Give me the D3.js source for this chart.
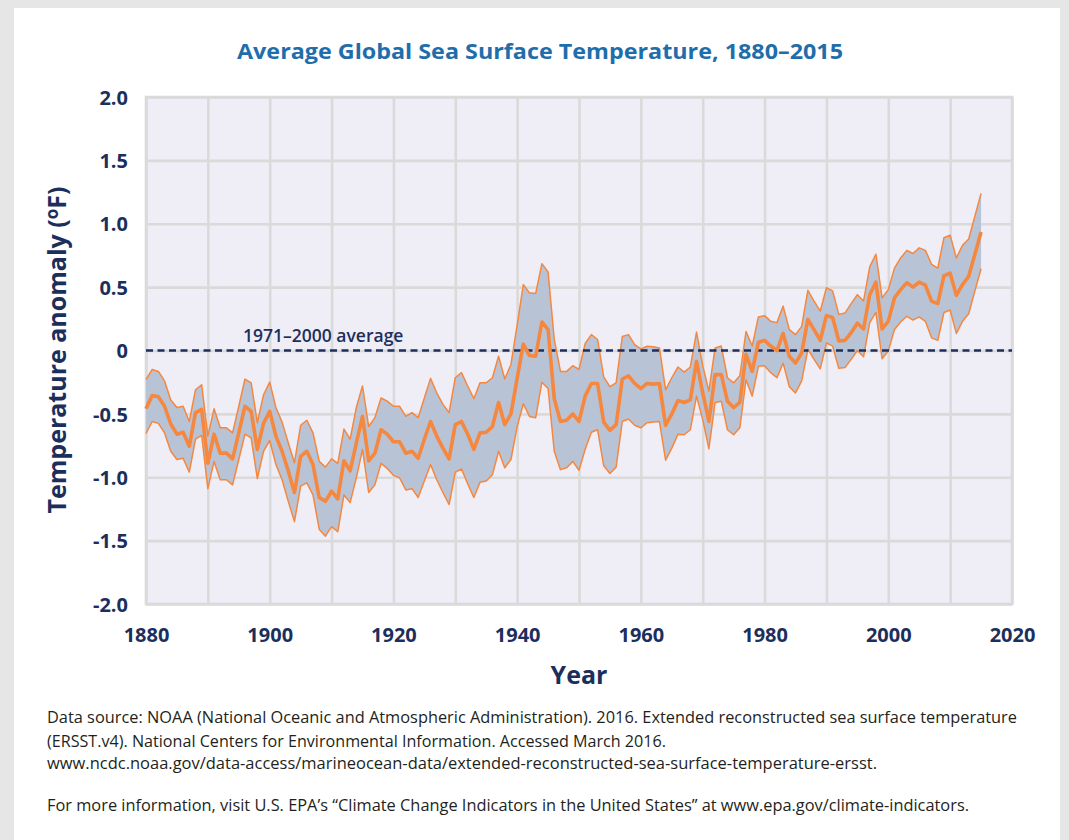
<!DOCTYPE html>
<html>
<head>
<meta charset="utf-8">
<script src="https://cdn.jsdelivr.net/npm/d3@7"></script>
<style>
  html, body { margin: 0; padding: 0; background: #e6e6e6; }
  svg { display: block; }
</style>
</head>
<body>
<svg id="chart" width="1069" height="840"></svg>
<script>
// Annual global sea surface temperature anomaly (°F) relative to 1971–2000,
// with the upper and lower bounds of the uncertainty range.
const years = d3.range(1880, 2016);

const anomaly = [
  -0.46, -0.355, -0.365, -0.44, -0.58, -0.66, -0.645, -0.755, -0.49, -0.465,
  -0.89, -0.66, -0.81, -0.81, -0.855, -0.65, -0.44, -0.48, -0.78, -0.575,
  -0.48, -0.675, -0.795, -0.95, -1.12, -0.835, -0.795, -0.90, -1.16, -1.19,
  -1.11, -1.17, -0.87, -0.95, -0.73, -0.52, -0.87, -0.81, -0.625, -0.66,
  -0.72, -0.72, -0.81, -0.795, -0.85, -0.70, -0.56, -0.675, -0.77, -0.855,
  -0.585, -0.56, -0.66, -0.78, -0.65, -0.645, -0.60, -0.41, -0.585, -0.50,
  -0.22, 0.05, -0.04, -0.045, 0.225, 0.165, -0.38, -0.56, -0.55, -0.50,
  -0.56, -0.36, -0.26, -0.26, -0.565, -0.63, -0.585, -0.225, -0.20, -0.26,
  -0.30, -0.26, -0.265, -0.26, -0.59, -0.50, -0.395, -0.41, -0.39, -0.085,
  -0.335, -0.56, -0.19, -0.19, -0.40, -0.45, -0.41, -0.03, -0.165, 0.065,
  0.08, 0.035, 0.0, 0.135, -0.045, -0.10, -0.02, 0.245, 0.165, 0.08,
  0.275, 0.26, 0.075, 0.08, 0.14, 0.215, 0.17, 0.44, 0.54, 0.17,
  0.23, 0.415, 0.48, 0.535, 0.50, 0.54, 0.515, 0.39, 0.37, 0.59,
  0.61, 0.435, 0.52, 0.585, 0.76, 0.935
];

const upperBound = [
  -0.23, -0.15, -0.165, -0.24, -0.39, -0.45, -0.44, -0.56, -0.31, -0.27,
  -0.675, -0.46, -0.61, -0.61, -0.65, -0.44, -0.225, -0.255, -0.57, -0.35,
  -0.25, -0.45, -0.565, -0.73, -0.885, -0.59, -0.55, -0.65, -0.875, -0.92,
  -0.855, -0.89, -0.62, -0.70, -0.45, -0.28, -0.60, -0.53, -0.375, -0.40,
  -0.44, -0.44, -0.52, -0.49, -0.53, -0.375, -0.22, -0.335, -0.425, -0.49,
  -0.215, -0.175, -0.28, -0.38, -0.255, -0.255, -0.215, -0.045, -0.225, -0.11,
  0.20, 0.52, 0.455, 0.45, 0.685, 0.62, 0.087, -0.165, -0.165, -0.12,
  -0.15, 0.055, 0.125, 0.087, -0.21, -0.285, -0.255, 0.11, 0.125, 0.047,
  0.013, 0.034, 0.03, 0.02, -0.31, -0.215, -0.13, -0.17, -0.13, 0.145,
  -0.12, -0.32, 0.02, 0.035, -0.215, -0.255, -0.20, 0.15, 0.035, 0.265,
  0.275, 0.23, 0.22, 0.35, 0.165, 0.125, 0.19, 0.475, 0.39, 0.31,
  0.495, 0.47, 0.285, 0.295, 0.37, 0.44, 0.39, 0.66, 0.76, 0.415,
  0.48, 0.65, 0.73, 0.79, 0.765, 0.81, 0.79, 0.68, 0.65, 0.89,
  0.91, 0.73, 0.83, 0.88, 1.06, 1.24
];

const lowerBound = [
  -0.655, -0.56, -0.575, -0.65, -0.795, -0.86, -0.85, -0.96, -0.70, -0.67,
  -1.09, -0.875, -1.02, -1.02, -1.06, -0.86, -0.66, -0.69, -1.01, -0.795,
  -0.71, -0.90, -1.02, -1.19, -1.35, -1.07, -1.045, -1.14, -1.41, -1.465,
  -1.39, -1.43, -1.14, -1.20, -1.005, -0.78, -1.12, -1.06, -0.89, -0.93,
  -0.985, -1.005, -1.10, -1.09, -1.16, -1.03, -0.90, -1.02, -1.12, -1.215,
  -0.96, -0.935, -1.05, -1.16, -1.04, -1.03, -0.98, -0.795, -0.925, -0.86,
  -0.60, -0.42, -0.52, -0.53, -0.25, -0.30, -0.795, -0.94, -0.925, -0.875,
  -0.945, -0.78, -0.645, -0.625, -0.91, -0.97, -0.92, -0.56, -0.54, -0.59,
  -0.61, -0.57, -0.565, -0.56, -0.865, -0.77, -0.66, -0.665, -0.625, -0.36,
  -0.545, -0.775, -0.41, -0.40, -0.625, -0.665, -0.61, -0.23, -0.36, -0.125,
  -0.12, -0.175, -0.215, -0.10, -0.285, -0.335, -0.24, 0.01, -0.07, -0.145,
  0.06, 0.035, -0.14, -0.135, -0.07, 0.0, -0.05, 0.22, 0.30, -0.065,
  -0.005, 0.165, 0.225, 0.27, 0.24, 0.265, 0.23, 0.10, 0.08, 0.30,
  0.32, 0.135, 0.23, 0.29, 0.47, 0.645
];

const xTicks = [1880, 1900, 1920, 1940, 1960, 1980, 2000, 2020];
const xGrid = d3.range(1880, 2021, 10);
const yTicks = [-2, -1.5, -1, -0.5, 0, 0.5, 1, 1.5, 2];
const yTickLabels = ["-2.0", "-1.5", "-1.0", "-0.5", "0", "0.5", "1.0", "1.5", "2.0"];
const baselineLabel = "1971–2000 average";

const footerLines = [
  "Data source: NOAA (National Oceanic and Atmospheric Administration). 2016. Extended reconstructed sea surface temperature",
  "(ERSST.v4). National Centers for Environmental Information. Accessed March 2016.",
  "www.ncdc.noaa.gov/data-access/marineocean-data/extended-reconstructed-sea-surface-temperature-ersst.",
  "For more information, visit U.S. EPA’s “Climate Change Indicators in the United States” at www.epa.gov/climate-indicators."
];

const rows = years.map((year, i) => ({
  year, value: anomaly[i], hi: upperBound[i], lo: lowerBound[i]
}));

const svg = d3.select("#chart");
const FONT = "'Open Sans', 'Noto Sans', sans-serif";
const NAVY = "#1c2f5c";
const ORANGE = "#f5873f";

// white card
svg.append("rect")
  .attr("x", 14).attr("y", 8)
  .attr("width", 1046).attr("height", 840)
  .attr("fill", "#ffffff");

const plot = { left: 146, right: 1012, top: 97, bottom: 604 };

const x = d3.scaleLinear().domain([1880, 2020]).range([plot.left, plot.right]);
const y = d3.scaleLinear().domain([-2, 2]).range([plot.bottom, plot.top]);

// plot background
svg.append("rect")
  .attr("x", plot.left).attr("y", plot.top)
  .attr("width", plot.right - plot.left).attr("height", plot.bottom - plot.top)
  .attr("fill", "#efedf6");

// grid lines
const gridX = svg.append("g")
  .attr("transform", `translate(0,${plot.bottom})`)
  .call(d3.axisBottom(x).tickValues(xGrid).tickSize(-(plot.bottom - plot.top)).tickFormat(""));
const gridY = svg.append("g")
  .attr("transform", `translate(${plot.left},0)`)
  .call(d3.axisLeft(y).tickValues(yTicks).tickSize(-(plot.right - plot.left)).tickFormat(""));
[gridX, gridY].forEach(g => {
  g.select(".domain").remove();
  g.selectAll(".tick line").attr("stroke", "#dadada").attr("stroke-width", 2.6);
});

// plot frame
svg.append("rect")
  .attr("x", plot.left).attr("y", plot.top)
  .attr("width", plot.right - plot.left).attr("height", plot.bottom - plot.top)
  .attr("fill", "none").attr("stroke", "#dadada").attr("stroke-width", 2.6);

// uncertainty band
svg.append("path")
  .datum(rows)
  .attr("fill", "#b8c4d6")
  .attr("d", d3.area().x(d => x(d.year)).y0(d => y(d.lo)).y1(d => y(d.hi)));

const edge = key => d3.line().x(d => x(d.year)).y(d => y(d[key]));
["hi", "lo"].forEach(key => {
  svg.append("path")
    .datum(rows)
    .attr("fill", "none")
    .attr("stroke", ORANGE)
    .attr("stroke-width", 1.5)
    .attr("stroke-linejoin", "round")
    .attr("d", edge(key));
});

// 1971–2000 baseline
svg.append("line")
  .attr("x1", x(1880)).attr("x2", x(2020))
  .attr("y1", y(0)).attr("y2", y(0))
  .attr("stroke", NAVY).attr("stroke-width", 2.5)
  .attr("stroke-dasharray", "7,4.5");

svg.append("text")
  .attr("x", 243).attr("y", 341.5)
  .attr("font-family", FONT).attr("font-weight", 600)
  .attr("font-size", 17.5).attr("fill", NAVY)
  .text(baselineLabel);

// annual anomaly line
svg.append("path")
  .datum(rows)
  .attr("fill", "none")
  .attr("stroke", ORANGE)
  .attr("stroke-width", 3.6)
  .attr("stroke-linejoin", "round")
  .attr("d", edge("value"));

// axes labels
const yAxis = svg.append("g")
  .attr("transform", `translate(128,0)`)
  .call(d3.axisLeft(y).tickValues(yTicks).tickSize(0).tickPadding(0)
    .tickFormat((d, i) => yTickLabels[i]));
const xAxis = svg.append("g")
  .attr("transform", `translate(0,642)`)
  .call(d3.axisBottom(x).tickValues(xTicks).tickSize(0).tickPadding(0)
    .tickFormat(d3.format("d")));
[xAxis, yAxis].forEach(g => {
  g.select(".domain").remove();
  g.selectAll("text")
    .attr("font-family", FONT).attr("font-weight", 700)
    .attr("font-size", 20).attr("fill", NAVY);
});
yAxis.selectAll("text").attr("dy", "0.36em");
xAxis.selectAll("text").attr("dy", 0);

// title
svg.append("text")
  .attr("x", 540).attr("y", 59)
  .attr("text-anchor", "middle")
  .attr("font-family", FONT).attr("font-weight", 700)
  .attr("font-size", 21).attr("fill", "#1f6eab")
  .attr("textLength", 606).attr("lengthAdjust", "spacingAndGlyphs")
  .text("Average Global Sea Surface Temperature, 1880–2015");

// axis titles
svg.append("text")
  .attr("x", 579).attr("y", 684)
  .attr("text-anchor", "middle")
  .attr("font-family", FONT).attr("font-weight", 700)
  .attr("font-size", 25).attr("fill", NAVY)
  .text("Year");

const yTitle = svg.append("text")
  .attr("transform", "translate(66,350) rotate(-90)")
  .attr("text-anchor", "middle")
  .attr("font-family", FONT).attr("font-weight", 700)
  .attr("font-size", 25).attr("fill", NAVY);
yTitle.append("tspan").text("Temperature anomaly (");
yTitle.append("tspan").attr("font-size", 17).attr("dy", -8).text("o");
yTitle.append("tspan").attr("dy", 8).text("F)");

// source notes
const footerY = [723, 747, 769, 811];
const footerW = [970, 619, 830, 922];
footerLines.forEach((line, i) => {
  svg.append("text")
    .attr("x", 47).attr("y", footerY[i])
    .attr("font-family", FONT).attr("font-size", 15.5)
    .attr("fill", "#231f20")
    .attr("textLength", footerW[i]).attr("lengthAdjust", "spacingAndGlyphs")
    .text(line);
});
</script>
</body>
</html>
